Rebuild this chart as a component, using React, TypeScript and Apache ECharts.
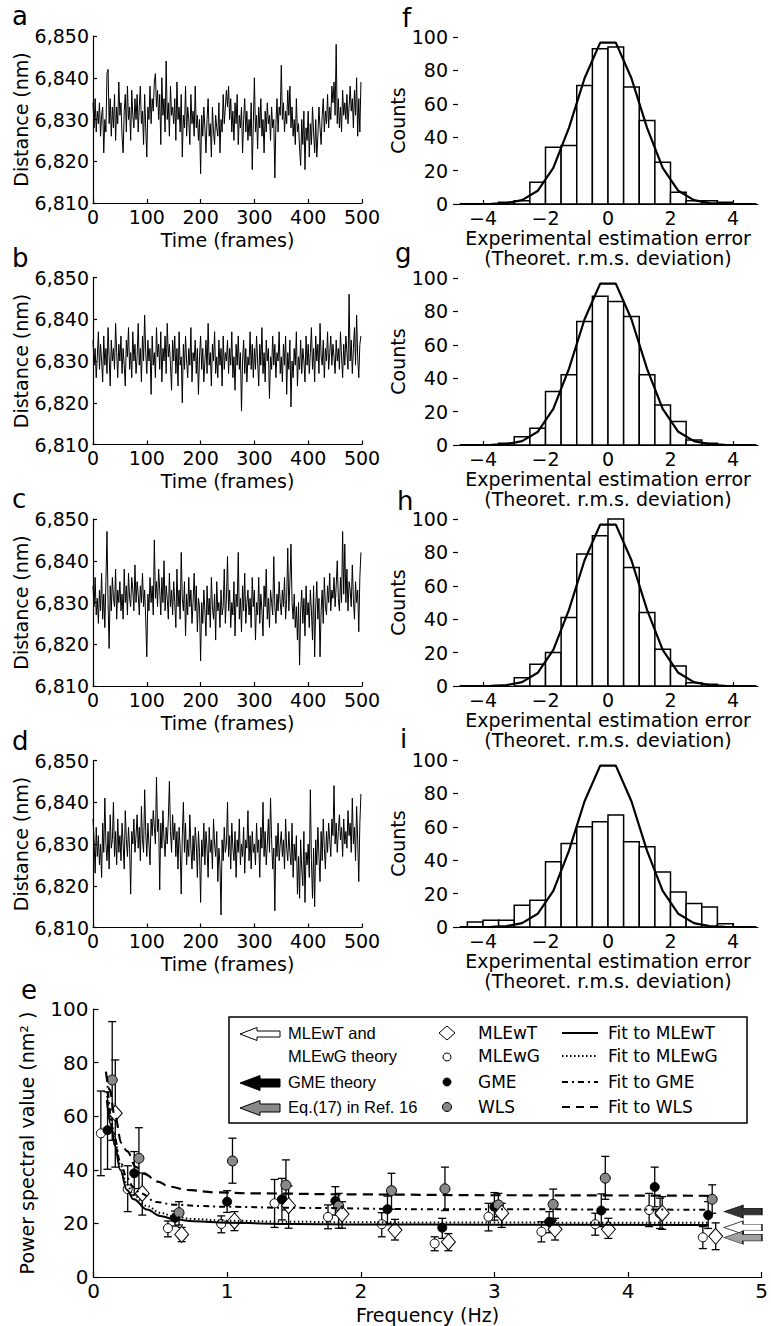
import React, { useEffect, useRef } from "react";
import * as echarts from "echarts";

const FONT = "DejaVu Sans";

// ---- panels a–d : distance traces (nm above 6800 nm), one reading every 2 frames ----
const distanceBase = 6800;
const distA = [
  34,28,35,27,32,29,34,26,31,33,22,30,27,41,42,29,35,26,33,28,36,25,33,29,39,
  31,34,26,22,32,36,27,38,30,33,25,37,31,28,35,30,36,27,33,38,29,32,24,36,28,
  21,33,30,38,29,35,32,39,41,33,37,30,36,24,40,31,35,27,44,30,34,26,38,31,33,
  29,35,25,39,30,33,27,36,21,31,28,38,26,33,30,24,36,29,32,26,38,28,31,25,30,
  17,31,26,33,28,22,30,35,26,29,21,33,27,24,31,28,26,34,22,30,27,36,29,33,37,
  33,38,30,35,27,32,25,34,29,36,24,31,28,33,22,30,35,27,32,25,30,26,34,18,29,
  40,27,31,23,33,28,35,26,30,22,32,27,34,29,31,25,33,28,30,16,29,35,27,33,31,
  43,30,34,27,32,29,37,31,38,28,33,26,30,24,35,27,29,23,19,30,24,32,18,28,25,
  32,21,29,24,33,27,22,30,21,26,33,28,24,31,35,27,32,29,36,28,33,30,38,34,39,
  31,48,29,35,28,33,27,37,31,34,30,36,29,33,38,32,35,28,37,31,40,26,35,27,39,
];
const distB = [
  35,29,33,26,31,37,28,34,30,25,36,29,33,27,38,31,24,35,30,33,28,39,32,26,34,
  30,36,27,33,29,24,35,31,38,28,32,26,37,30,34,27,31,39,29,33,25,36,30,41,32,
  27,35,30,33,22,36,29,32,26,38,31,34,28,37,25,33,30,36,27,39,31,34,29,23,35,
  30,36,27,33,24,37,29,31,20,34,28,36,30,26,33,29,38,25,32,30,35,27,33,22,31,
  36,28,33,25,30,35,27,39,29,32,24,34,30,37,27,31,26,35,29,33,24,36,28,32,30,
  35,27,33,29,37,26,31,23,34,29,36,28,32,18,30,35,27,33,25,31,29,37,28,34,26,
  33,28,36,30,24,34,29,38,27,32,25,35,30,33,21,31,28,36,29,34,26,32,30,37,27,
  31,25,34,29,36,22,32,28,35,19,30,26,33,29,37,24,31,28,35,27,33,30,25,36,29,
  34,27,32,38,28,33,25,36,30,34,27,39,31,29,35,26,33,30,37,28,32,36,29,34,31,
  27,35,30,33,28,37,31,26,34,29,36,32,28,46,30,35,27,33,38,29,41,31,26,34,36,
];
const distC = [
  34,29,36,27,31,25,33,28,37,26,32,24,35,47,30,19,34,28,36,31,29,38,26,33,30,
  35,28,32,26,38,30,34,27,37,31,29,36,33,28,39,30,35,32,27,34,30,37,29,33,26,
  17,32,28,36,30,34,27,45,31,35,29,38,33,27,36,30,40,28,34,31,26,37,29,33,27,
  35,30,24,38,29,33,26,42,31,28,35,22,32,27,36,29,33,25,30,37,28,34,23,31,29,
  16,30,25,33,28,22,34,27,31,24,36,29,26,32,21,35,28,30,24,33,27,29,38,25,31,
  41,28,33,24,30,27,35,22,32,29,42,26,31,23,34,28,37,25,30,33,27,31,24,36,29,
  33,21,30,27,36,25,32,28,22,34,29,38,26,31,24,33,30,27,41,29,25,32,28,35,30,
  27,33,29,36,26,31,43,28,35,44,30,26,32,24,29,21,30,15,28,33,25,31,22,34,27,
  30,24,33,28,21,34,17,29,35,26,31,17,28,33,25,36,29,27,34,30,37,28,33,31,36,
  29,34,40,31,28,36,30,47,32,44,30,38,28,35,33,29,39,31,26,35,30,33,23,36,42,
];
const distD = [
  36,31,23,34,27,32,25,30,22,35,28,41,30,26,33,24,37,29,31,40,27,33,25,36,28,
  32,26,35,30,24,38,31,27,34,29,18,33,30,36,28,32,37,29,34,26,39,31,28,43,33,
  27,35,30,25,36,32,38,34,30,46,33,36,19,35,29,38,31,27,34,30,36,45,33,28,37,
  31,35,27,33,24,34,29,18,32,40,28,35,25,31,27,37,29,24,32,26,34,30,22,33,28,
  16,31,27,35,25,33,29,22,34,28,31,24,36,30,27,33,21,29,25,13,31,26,34,28,30,
  40,27,32,24,35,29,26,33,22,31,28,36,25,30,27,34,23,31,29,38,26,32,24,33,28,
  30,25,35,28,31,22,34,29,40,27,33,25,30,36,28,41,31,24,29,14,32,27,35,26,30,
  33,27,31,24,36,29,26,33,28,25,35,22,30,26,32,18,27,17,31,24,20,33,16,28,25,
  30,22,43,26,17,29,15,31,25,34,27,21,33,26,36,29,24,33,28,35,31,27,36,32,44,
  30,35,28,33,37,31,34,27,36,30,33,29,38,32,35,28,41,30,34,26,39,31,21,35,42,
];
const framesPerReading = 2;

// ---- panels f–i : histograms of estimation error ----
const binEdges = [-4.5,-4,-3.5,-3,-2.5,-2,-1.5,-1,-0.5,0,0.5,1,1.5,2,2.5,3,3.5,4,4.5];
const countsF = [0,0,1,2,13,34,35,71,93,94,70,50,25,7,2,2,1,0];
const countsG = [0,0,1,5,10,32,42,74,89,86,77,42,24,14,3,1,0,0];
const countsH = [0,0,0,5,13,20,41,79,90,100,71,44,22,12,2,1,0,0];
const countsI = [3,4,4,13,16,39,50,60,63,67,51,48,33,21,14,12,2,0];
const gaussX = [-4.75,-4.25,-3.75,-3.25,-2.75,-2.25,-1.75,-1.25,-0.75,-0.25,0.25,0.75,1.25,1.75,2.25,2.75,3.25,3.75,4.25,4.75];
const gaussY = [0,0.01,0.09,0.5,2.3,7.9,21.6,45.6,75.3,96.6,96.6,75.3,45.6,21.6,7.9,2.3,0.5,0.09,0.01,0];
const errTicks = [-4, -2, 0, 2, 4];

// ---- panel e : power spectra ----
const fMLEwG = [0.055,0.256,0.557,0.956,1.355,1.755,2.157,2.553,2.956,3.352,3.755,4.158,4.56];
const pMLEwG = [53.6,32.8,18.2,19.8,27.5,22.4,19.7,12.5,22.5,16.9,19.7,25.0,14.8];
const loMLEwG = [37.8,24.4,15.0,16.5,18.5,18.0,15.0,9.8,17.2,13.1,15.6,18.8,10.6];
const hiMLEwG = [69.4,41.5,20.9,22.8,36.4,26.9,24.0,15.0,27.5,20.6,23.8,31.2,18.8];

const fGME = [0.105,0.305,0.61,1.0,1.41,1.81,2.2,2.61,3.0,3.41,3.8,4.2,4.6];
const pGME = [54.8,38.7,22.1,28.1,29.0,28.4,25.3,18.4,26.2,20.6,24.8,33.6,23.1];
const loGME = [40.2,30.6,19.0,24.1,21.3,23.1,20.0,14.4,21.2,16.5,18.8,26.2,18.1];
const hiGME = [69.1,46.8,24.6,32.2,36.8,33.7,30.2,21.9,31.5,24.4,31.0,41.0,28.1];

const fWLS = [0.14,0.34,0.64,1.04,1.44,1.835,2.23,2.63,3.03,3.44,3.83,4.24,4.63];
const pWLS = [73.5,44.3,24.0,43.3,34.3,26.5,32.2,32.9,26.9,27.1,36.9,23.8,29.0];
const loWLS = [51.0,33.0,19.4,35.0,25.0,18.2,25.3,24.8,22.5,21.2,29.0,18.1,23.8];
const hiWLS = [95.3,55.7,28.1,51.8,43.7,31.2,38.7,41.0,31.2,32.8,45.0,29.4,34.4];

const fMLEwT = [0.163,0.365,0.66,1.055,1.46,1.86,2.256,2.656,3.055,3.454,3.853,4.256,4.656];
const pMLEwT = [61.1,31.2,15.9,20.9,26.6,23.5,17.5,13.1,23.8,17.8,17.8,23.8,15.2];
const loMLEwT = [41.0,23.1,13.2,17.3,18.2,18.2,13.8,9.8,18.5,13.8,14.4,17.8,10.2];
const hiMLEwT = [81.0,38.8,18.5,24.4,34.0,28.1,21.5,16.2,27.5,21.9,21.9,30.0,20.2];

const fitMLEwTX = [0.1,0.13,0.16,0.2,0.25,0.3,0.4,0.5,0.6,0.75,1.0,1.5,2,3,4.6];
const fitMLEwTY = [66,57,49,40,32.5,29,25.2,22.8,21.6,20.8,20.2,19.8,19.6,19.5,19.4];
const fitMLEwGX = [0.1,0.13,0.16,0.2,0.25,0.3,0.4,0.5,0.6,0.75,1.0,1.5,2,3,4.6];
const fitMLEwGY = [69,59,51,42,34.5,30.5,26.5,24,22.6,21.6,21,20.6,20.4,20.3,20.2];
const fitGMEX = [0.1,0.15,0.2,0.25,0.3,0.35,0.47,0.6,0.8,1.0,1.5,2.5,4.6];
const fitGMEY = [75,54,43,37,33.5,31.2,28,27,26.5,26.2,25.8,25.3,25.1];
const fitWLSX = [0.093,0.12,0.16,0.21,0.25,0.32,0.38,0.48,0.57,0.7,0.9,1.2,2,3,4.62];
const fitWLSY = [76.6,70,60,50,47,41,38.5,35.6,33.7,32.5,31.6,31.2,30.8,30.5,30.3];

const theoryLevels = [18.5, 24.4, 14.7]; // MLEwT & MLEwG theory, GME theory, Eq.(17) in Ref. 16
const theoryFills = ["#fff", "#000", "#888"];

const leftTops = [36, 277.5, 519, 760.5];
const rightTops = [37, 278, 519, 760];
const leftLetters = ["a", "b", "c", "d"];
const rightLetters = ["f", "g", "h", "i"];

const black = "#000";
const axisLine = { color: black, width: 1.2 };
const lbl = { color: black, fontSize: 19, fontFamily: FONT };

function errRender(params: any, api: any) {
  const x = api.value(0);
  const pl = api.coord([x, api.value(2)]);
  const ph = api.coord([x, api.value(3)]);
  const cw = 4;
  const st = { stroke: black, lineWidth: 1.3 };
  return {
    type: "group",
    children: [
      { type: "line", shape: { x1: pl[0], y1: pl[1], x2: ph[0], y2: ph[1] }, style: st },
      { type: "line", shape: { x1: pl[0] - cw, y1: pl[1], x2: pl[0] + cw, y2: pl[1] }, style: st },
      { type: "line", shape: { x1: ph[0] - cw, y1: ph[1], x2: ph[0] + cw, y2: ph[1] }, style: st },
    ],
  };
}

function histRender(params: any, api: any) {
  const p0 = api.coord([api.value(0), 0]);
  const p1 = api.coord([api.value(1), api.value(2)]);
  return {
    type: "rect",
    shape: { x: p0[0], y: p1[1], width: p1[0] - p0[0], height: p0[1] - p1[1] },
    style: { fill: "#fff", stroke: black, lineWidth: 1.5 },
  };
}

function arrowPts(x0: number, yc: number, big: boolean) {
  const hh = big ? 7.5 : 6.5;
  const sh = big ? 4 : 3;
  const hl = big ? 20 : 17;
  const L = 40;
  return [
    [x0, yc], [x0 + hl, yc - hh], [x0 + hl, yc - sh], [x0 + L, yc - sh],
    [x0 + L, yc + sh], [x0 + hl, yc + sh], [x0 + hl, yc + hh],
  ];
}

function buildOption() {
  const grid: any[] = [];
  const xAxis: any[] = [];
  const yAxis: any[] = [];
  const series: any[] = [];
  const traces = [distA, distB, distC, distD];
  const counts = [countsF, countsG, countsH, countsI];

  traces.forEach((tr, k) => {
    grid.push({ left: 93, top: leftTops[k], width: 269, height: 167 });
    xAxis.push({
      gridIndex: k, type: "value", min: 0, max: 500, interval: 100,
      axisLine: { show: true, onZero: false, lineStyle: axisLine },
      axisTick: { show: true, inside: true, length: 4, lineStyle: axisLine },
      axisLabel: { ...lbl, margin: 4 },
      splitLine: { show: false },
      name: "Time (frames)", nameLocation: "middle", nameGap: 27,
      nameTextStyle: { ...lbl },
    });
    yAxis.push({
      gridIndex: k, type: "value", min: 6810, max: 6850, interval: 10,
      axisLine: { show: true, onZero: false, lineStyle: axisLine },
      axisTick: { show: true, inside: true, length: 4, lineStyle: axisLine },
      axisLabel: { ...lbl, margin: 4, formatter: (v: number) => v.toLocaleString("en-US") },
      splitLine: { show: false },
      name: "Distance (nm)", nameLocation: "middle", nameGap: 60,
      nameTextStyle: { ...lbl },
    });
    series.push({
      type: "line", xAxisIndex: k, yAxisIndex: k, symbol: "none",
      lineStyle: { color: black, width: 1 },
      data: tr.map((v, i) => [i * framesPerReading, distanceBase + v]),
    });
  });

  counts.forEach((cs, k) => {
    const gi = 4 + k;
    grid.push({ left: 458, top: rightTops[k], width: 300, height: 167 });
    xAxis.push({
      gridIndex: gi, type: "value", min: -4.8, max: 4.8,
      axisLine: { show: true, onZero: false, lineStyle: axisLine },
      axisTick: { show: true, inside: true, length: 4, lineStyle: axisLine, customValues: errTicks },
      axisLabel: {
        ...lbl, margin: 4, customValues: errTicks,
        formatter: (v: number) => (v < 0 ? "\u2212" + -v : String(v)),
      },
      splitLine: { show: false },
      name: "Experimental estimation error\n(Theoret. r.m.s. deviation)",
      nameLocation: "middle", nameGap: 24,
      nameTextStyle: { ...lbl, lineHeight: 20 },
    });
    yAxis.push({
      gridIndex: gi, type: "value", min: 0, max: 100, interval: 20,
      axisLine: { show: false, onZero: false },
      axisTick: { show: true, inside: false, length: 5, lineStyle: axisLine },
      axisLabel: { ...lbl, margin: 10 },
      splitLine: { show: false },
      name: "Counts", nameLocation: "middle", nameGap: 50,
      nameTextStyle: { ...lbl },
    });
    series.push({
      type: "custom", xAxisIndex: gi, yAxisIndex: gi, renderItem: histRender,
      encode: { x: [0, 1], y: 2 }, z: 2,
      data: cs.map((c, i) => [binEdges[i], binEdges[i + 1], c]).filter((d) => d[2] > 0),
    });
    series.push({
      type: "line", xAxisIndex: gi, yAxisIndex: gi, symbol: "none", z: 3,
      lineStyle: { color: black, width: 2.2 },
      data: gaussX.map((x, i) => [x, gaussY[i]]),
    });
  });

  // panel e
  const ge = 8;
  grid.push({ left: 93.5, top: 1009, width: 672, height: 268 });
  xAxis.push({
    gridIndex: ge, type: "value", min: 0, max: 5, interval: 1,
    axisLine: { show: true, onZero: false, lineStyle: axisLine },
    axisTick: { show: true, inside: true, length: 5, lineStyle: axisLine },
    axisLabel: { ...lbl, fontSize: 20, margin: 4 },
    splitLine: { show: false },
    name: "Frequency (Hz)", nameLocation: "middle", nameGap: 28,
    nameTextStyle: { ...lbl },
  });
  yAxis.push({
    gridIndex: ge, type: "value", min: 0, max: 100, interval: 20,
    axisLine: { show: true, onZero: false, lineStyle: axisLine },
    axisTick: { show: true, inside: true, length: 5, lineStyle: axisLine },
    axisLabel: { ...lbl, fontSize: 20, margin: 5 },
    splitLine: { show: false },
    name: "Power spectral value (nm\u00B2 )", nameLocation: "middle", nameGap: 57,
    nameTextStyle: { ...lbl },
  });

  const groups = [
    { f: fMLEwG, p: pMLEwG, lo: loMLEwG, hi: hiMLEwG, symbol: "circle", size: 9, color: "#fff" },
    { f: fGME, p: pGME, lo: loGME, hi: hiGME, symbol: "circle", size: 9, color: "#000" },
    { f: fWLS, p: pWLS, lo: loWLS, hi: hiWLS, symbol: "circle", size: 10, color: "#888" },
    { f: fMLEwT, p: pMLEwT, lo: loMLEwT, hi: hiMLEwT, symbol: "diamond", size: [14, 16], color: "#fff" },
  ];
  groups.forEach((g) => {
    const data = g.f.map((f, i) => [f, g.p[i], g.lo[i], g.hi[i]]);
    series.push({
      type: "custom", xAxisIndex: ge, yAxisIndex: ge, renderItem: errRender,
      encode: { x: 0, y: [1, 2, 3] }, data, z: 3,
    });
    series.push({
      type: "scatter", xAxisIndex: ge, yAxisIndex: ge, symbol: g.symbol, symbolSize: g.size,
      itemStyle: { color: g.color, borderColor: black, borderWidth: 1, opacity: 1 },
      data: data.map((d) => [d[0], d[1]]), z: 4,
    });
  });

  const fits = [
    { x: fitMLEwTX, y: fitMLEwTY, type: "solid", width: 2 },
    { x: fitMLEwGX, y: fitMLEwGY, type: [1.5, 2.5], width: 2 },
    { x: fitGMEX, y: fitGMEY, type: [6, 4, 2, 4], width: 2 },
    { x: fitWLSX, y: fitWLSY, type: [10, 6], width: 2.2 },
  ];
  fits.forEach((ft) => {
    series.push({
      type: "line", xAxisIndex: ge, yAxisIndex: ge, symbol: "none", smooth: 0.4,
      smoothMonotone: "x", z: 5,
      lineStyle: { color: black, width: ft.width, type: ft.type },
      data: ft.x.map((x, i) => [x, ft.y[i]]),
    });
  });

  series.push({
    type: "scatter", xAxisIndex: ge, yAxisIndex: ge, z: 6, clip: false,
    symbol: "path://M0,6L19,0L19,3L38,3L38,9L19,9L19,12Z", symbolSize: [38, 13],
    data: theoryLevels.map((v, i) => ({
      value: [4.86, v],
      itemStyle: { color: theoryFills[i], borderColor: black, borderWidth: 1 },
    })),
  });

  // graphics: panel letters and legend of e
  const elements: any[] = [];
  const letter = (t: string, x: number, y: number) =>
    elements.push({
      type: "text", x, y, z: 50,
      style: { text: t, font: `26px "${FONT}"`, fill: black, verticalAlign: "middle", align: "left" },
    });
  leftLetters.forEach((t, k) => letter(t, 12, leftTops[k] - 20));
  const rl = [[402, 18], [395, 253], [397, 501], [400, 739]];
  rightLetters.forEach((t, k) => letter(t, rl[k][0], rl[k][1]));
  letter("e", 21, 989.5);

  const lz = 60;
  elements.push({
    type: "rect", z: lz, shape: { x: 229, y: 1017, width: 518, height: 106 },
    style: { fill: "#fff", stroke: black, lineWidth: 1.5 },
  });
  const rows = [1033, 1056, 1082, 1107];
  const t1 = (t: string, y: number) =>
    elements.push({
      type: "text", z: lz + 1, x: 288, y,
      style: { text: t, font: `16.5px "Liberation Sans"`, fill: black, verticalAlign: "middle" },
    });
  t1("MLEwT and", rows[0]);
  t1("MLEwG theory", rows[1]);
  t1("GME theory", rows[2]);
  t1("Eq.(17) in Ref. 16", rows[3]);
  elements.push({ type: "polygon", z: lz + 1, shape: { points: arrowPts(240, rows[0] + 1, false) }, style: { fill: "#fff", stroke: black, lineWidth: 1 } });
  elements.push({ type: "polygon", z: lz + 1, shape: { points: arrowPts(240, rows[2] + 1, true) }, style: { fill: "#000", stroke: black, lineWidth: 1 } });
  elements.push({ type: "polygon", z: lz + 1, shape: { points: arrowPts(240, rows[3] + 1, true) }, style: { fill: "#888", stroke: black, lineWidth: 1 } });

  const mx = 447;
  elements.push({ type: "polygon", z: lz + 1, shape: { points: [[mx, rows[0] - 7], [mx + 8, rows[0]], [mx, rows[0] + 7], [mx - 8, rows[0]]] }, style: { fill: "#fff", stroke: black, lineWidth: 1 } });
  elements.push({ type: "circle", z: lz + 1, shape: { cx: mx, cy: rows[1] + 1, r: 4 }, style: { fill: "#fff", stroke: black, lineWidth: 1 } });
  elements.push({ type: "circle", z: lz + 1, shape: { cx: mx, cy: rows[2], r: 4 }, style: { fill: "#000", stroke: black, lineWidth: 1 } });
  elements.push({ type: "circle", z: lz + 1, shape: { cx: mx, cy: rows[3], r: 4.5 }, style: { fill: "#888", stroke: black, lineWidth: 1 } });
  const t2 = (t: string, x: number, y: number) =>
    elements.push({
      type: "text", z: lz + 1, x, y,
      style: { text: t, font: `17px "${FONT}"`, fill: black, verticalAlign: "middle" },
    });
  ["MLEwT", "MLEwG", "GME", "WLS"].forEach((t, i) => t2(t, 478, rows[i]));
  ["Fit to MLEwT", "Fit to MLEwG", "Fit to GME", "Fit to WLS"].forEach((t, i) => t2(t, 608, rows[i]));
  const dashes: any[] = [null, [1.5, 2.5], [6, 4, 2, 4], [8, 6]];
  rows.forEach((y, i) =>
    elements.push({
      type: "line", z: lz + 1, shape: { x1: 562, y1: y, x2: 598, y2: y },
      style: { stroke: black, lineWidth: 2, lineDash: dashes[i] || undefined },
    })
  );

  return {
    animation: false,
    backgroundColor: "#fff",
    textStyle: { fontFamily: FONT, color: black },
    grid, xAxis, yAxis, series,
    graphic: { elements },
  };
}

export default function App() {
  const ref = useRef<HTMLDivElement>(null);
  useEffect(() => {
    document.body.style.margin = "0";
    const chart = echarts.init(ref.current!, undefined, { renderer: "svg" });
    chart.setOption(buildOption() as any);
    return () => chart.dispose();
  }, []);
  return <div ref={ref} style={{ width: 771, height: 1326 }} />;
}
